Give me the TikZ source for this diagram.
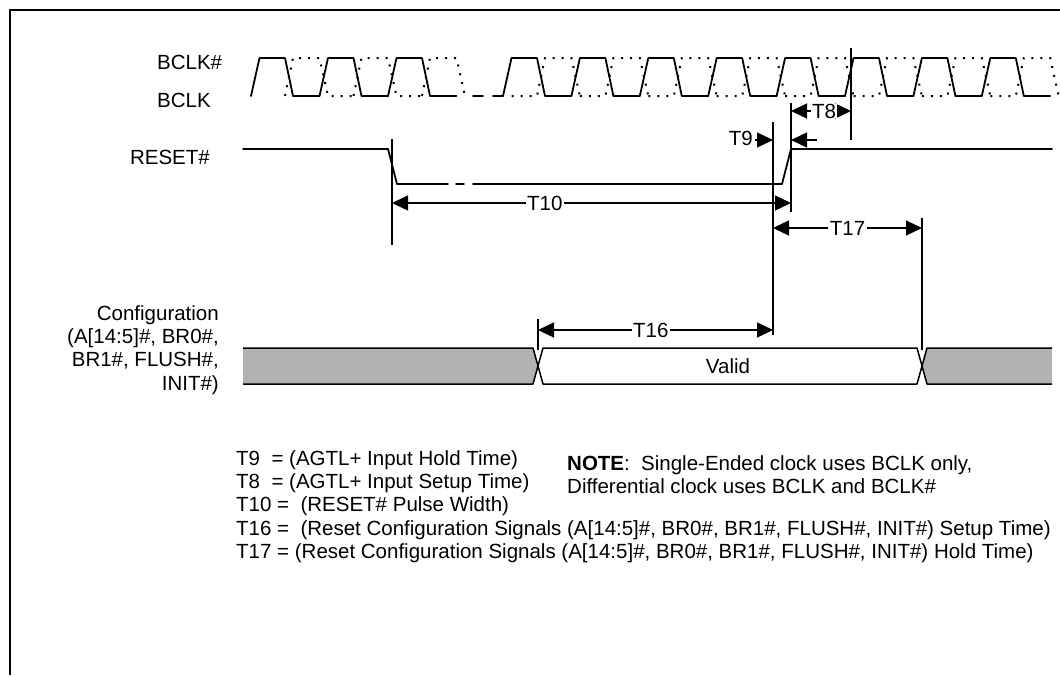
\documentclass[tikz,border=0pt]{standalone}
\usepackage{fontspec}
\setmainfont{Liberation Sans}
\usetikzlibrary{arrows.meta}
\tikzset{
  sig/.style={line width=1.8pt,line join=round,line cap=round},
  sigdot/.style={line width=2pt,dash pattern=on 2pt off 7pt},
  bus/.style={line width=1.5pt,line join=round},
  dim/.style={line width=1.3pt},
  tip/.style={-{Triangle[length=16pt,width=15pt]}},
  dimarrow/.style={dim,{Triangle[length=16pt,width=15pt]}-{Triangle[length=16pt,width=15pt]}},
  lbl/.style={inner sep=0pt,font=\fontsize{20.5}{23.3}\selectfont},
  dimlbl/.style={lbl,fill=white,inner xsep=1.5pt,inner ysep=0pt},
}
\begin{document}
\begin{tikzpicture}[x=1pt,y=-1pt]
  \useasboundingbox (0,0) rectangle (1060,675);
  \draw[line width=2pt] (10,675)--(10,10)--(1060,10);
  % signal names
  \node[lbl,anchor=west] (bclkn) at (157,62) {BCLK\#};
  \node[lbl,anchor=west] (bclk) at (157,100) {BCLK};
  \node[lbl,anchor=east] (rst) at (210,157) {RESET\#};
  \node[lbl,anchor=east,align=right] (cfg) at (219,350)
    {Configuration\\(A[14:5]\#, BR0\#,\\BR1\#, FLUSH\#,\\INIT\#)};
  % BCLK / BCLK#
  \foreach \r in {251,319.5,388}
    \draw[sig] (\r,96)--++(8.5,-38)--++(25.5,0)--++(8,38)--++(26.5,0);
  \foreach \r in {251,319.5}
    \draw[sigdot] (\r+34,96)--++(8,-38)--++(26.5,0)--++(8.5,38)--++(25.5,0);
  \draw[sigdot] (422,96)--++(8,-38)--++(26.5,0)--++(8.5,38);
  \draw[sig] (473,96)--(483,96);
  \draw[sig] (493,96)--(503,96);
  \foreach \k in {0,...,7} {
    \pgfmathsetmacro\r{503+68.4*\k}
    \draw[sig] (\r,96)--++(8.5,-38)--++(25.5,0)--++(8,38)--++(26.4,0);
    \draw[sigdot] (\r+8.5,96)--++(25.5,0)--++(8,-38)--++(26.4,0)--++(8.5,38);
  }
  % RESET#
  \draw[sig] (243,149)--(388,149)--(397,184)--(448,184);
  \draw[sig] (456,184)--(464,184);
  \draw[sig] (473,184)--(782,184)--(791,149)--(1052,149);
  % configuration bus
  \fill[black!30] (243,348)--(533,348)--(538,366)--(533,384)--(243,384)--cycle;
  \draw[bus] (243,348)--(533,348)--(538,366)--(533,384)--(243,384);
  \draw[bus] (543,348)--(917,348)--(922,366)--(917,384)--(543,384)--(538,366)--cycle;
  \node[lbl] (valid) at (728,366) {Valid};
  \fill[black!30] (1052,348)--(927,348)--(922,366)--(927,384)--(1052,384)--cycle;
  \draw[bus] (1052,348)--(927,348)--(922,366)--(927,384)--(1052,384);
  % reference lines
  \coordinate (fall) at (392,139);
  \coordinate (hold) at (773,122);
  \coordinate (rise) at (791,103);
  \coordinate (edge) at (851,48);
  \coordinate (cfga) at (538,319);
  \coordinate (cfgb) at (922,218);
  \draw[dim] (fall)--++(0,106);
  \draw[dim] (hold)--++(0,213);
  \draw[dim] (rise)--++(0,109);
  \draw[dim] (edge)--++(0,92);
  \draw[dim] (cfga)--++(0,31);
  \draw[dim] (cfgb)--++(0,132);
  % timings
  \draw[dimarrow] (rise |- 0,111)--(edge |- 0,111);
  \node[dimlbl] (t8) at (824,111) {T8};
  \draw[dim,tip] (755,140)--(hold |- 0,140);
  \draw[dim,tip] (817,140)--(rise |- 0,140);
  \node[lbl,anchor=east] (t9) at (753,138) {T9};
  \draw[dimarrow] (fall |- 0,203)--(rise |- 0,203) node[dimlbl,pos=0.383] (t10) {T10};
  \draw[dimarrow] (hold |- 0,228)--(cfgb |- 0,228) node[dimlbl,pos=0.5] (t17) {T17};
  \draw[dimarrow] (cfga |- 0,330)--(hold |- 0,330) node[dimlbl,pos=0.48] (t16) {T16};
  % legend
  \node[lbl,anchor=west,align=left] (legend) at (236,506.5)
    {T9\ \ = (AGTL+ Input Hold Time)\\
     T8\ \ = (AGTL+ Input Setup Time)\\
     T10 =\ \ (RESET\# Pulse Width)\\
     T16 =\ \ (Reset Configuration Signals (A[14:5]\#, BR0\#, BR1\#, FLUSH\#, INIT\#) Setup Time)\\
     T17 = (Reset Configuration Signals (A[14:5]\#, BR0\#, BR1\#, FLUSH\#, INIT\#) Hold Time)};
  \node[lbl,anchor=west,align=left] (note) at (567,475)
    {\textbf{NOTE}:\ \ Single-Ended clock uses BCLK only,\\Differential clock uses BCLK and BCLK\#};
\end{tikzpicture}
\end{document}
